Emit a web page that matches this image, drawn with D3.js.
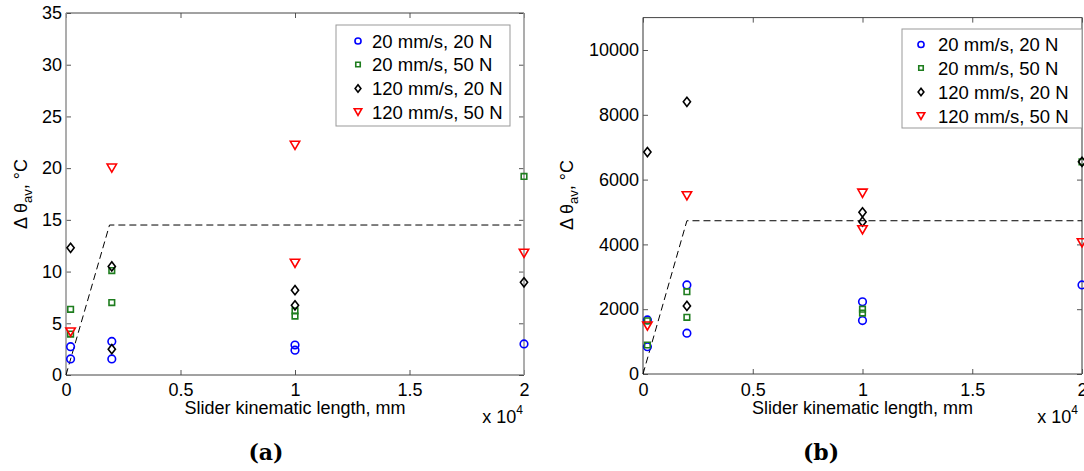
<!DOCTYPE html>
<html><head><meta charset="utf-8">
<script src="https://cdn.jsdelivr.net/npm/d3@7"></script>
<style>
body{margin:0;background:#fff}
text{font-family:"Liberation Sans",Arial,Helvetica,sans-serif;fill:#000}
</style>
</head><body>
<svg id="chart" width="1084" height="471"></svg>
<script>
// ---------- data ----------
const seriesNames = ["20 mm/s, 20 N", "20 mm/s, 50 N", "120 mm/s, 20 N", "120 mm/s, 50 N"];
const seriesColors = ["#0000ff", "#1e7d1e", "#000000", "#ff0000"];
const seriesShapes = ["circle", "square", "diamond", "triangle"];
const xTickValues = [0, 5000, 10000, 15000, 20000];
const xTickLabels = ["0", "0.5", "1", "1.5", "2"];
const xLabel = "Slider kinematic length, mm";
const aYTicks = [0, 5, 10, 15, 20, 25, 30, 35];
const bYTicks = [0, 2000, 4000, 6000, 8000, 10000];

// panel (a)
const aCircleX = [200, 200, 2000, 2000, 10000, 10000, 20000];
const aCircleY = [2.74, 1.55, 3.25, 1.55, 2.9, 2.4, 3.0];
const aSquareX = [200, 200, 2000, 2000, 10000, 10000, 20000];
const aSquareY = [6.35, 3.96, 10.1, 7.0, 6.2, 5.7, 19.2];
const aDiamondX = [200, 2000, 2000, 10000, 10000, 20000];
const aDiamondY = [12.3, 10.5, 2.5, 8.2, 6.74, 8.96];
const aTriangleX = [200, 2000, 10000, 10000, 20000];
const aTriangleY = [4.15, 20.0, 22.2, 10.8, 11.76];
const aDashX = [0, 1900, 20000];
const aDashY = [0, 14.5, 14.5];

// panel (b)
const bCircleX = [200, 200, 2000, 2000, 10000, 10000, 20000];
const bCircleY = [1670, 843, 2750, 1260, 2230, 1650, 2750];
const bSquareX = [200, 200, 2000, 2000, 10000, 10000, 20000];
const bSquareY = [1640, 895, 2540, 1750, 2000, 1880, 6550];
const bDiamondX = [200, 2000, 2000, 10000, 10000, 20000];
const bDiamondY = [6850, 8400, 2100, 4990, 4700, 6550];
const bTriangleX = [200, 2000, 10000, 10000, 20000];
const bTriangleY = [1480, 5500, 5580, 4450, 4050];
const bDashX = [0, 2000, 20000];
const bDashY = [0, 4730, 4730];

// ---------- drawing ----------
const svg = d3.select("#chart");

function markerPath(shape, s) {
  if (shape === "circle") return d3.symbol().type(d3.symbolCircle).size(Math.PI * (3.8 * s) ** 2)();
  if (shape === "square") { const h = 2.8 * s; return `M${-h},${-h}H${h}V${h}H${-h}Z`; }
  if (shape === "diamond") { const w = 3.6 * s, h = 4.6 * s; return `M0,${-h}L${w},0L0,${h}L${-w},0Z`; }
  if (shape === "triangle") { const w = 4.7 * s, h = 4.1 * s; return `M${-w},${-h}L${w},${-h}L0,${h}Z`; }
}

function drawPanel(cfg) {
  const g = svg.append("g");
  const x = d3.scaleLinear().domain([0, 20000]).range([cfg.L, cfg.R]);
  const y = d3.scaleLinear().domain([0, cfg.yMax]).range([cfg.B, cfg.T]);

  const styleAxis = sel => {
    sel.select(".domain").remove();
    sel.selectAll(".tick line").attr("stroke", "#555");
    sel.selectAll(".tick text").style("font-family", '"Liberation Sans",Arial,sans-serif').style("font-size", "18px").attr("fill", "#000");
  };

  g.append("g").attr("transform", `translate(0,${cfg.B})`)
    .call(d3.axisBottom(x).tickValues(xTickValues).tickFormat((d, i) => xTickLabels[i]).tickSizeInner(-5).tickSizeOuter(0).tickPadding(cfg.xPad))
    .call(styleAxis);
  g.append("g").attr("transform", `translate(0,${cfg.T})`)
    .call(d3.axisTop(x).tickValues(xTickValues).tickFormat("").tickSizeInner(-5).tickSizeOuter(0))
    .call(styleAxis);
  g.append("g").attr("transform", `translate(${cfg.L},0)`)
    .call(d3.axisLeft(y).tickValues(cfg.yTicks).tickFormat(d3.format("d")).tickSizeInner(-5).tickSizeOuter(0).tickPadding(4))
    .call(styleAxis);
  g.append("g").attr("transform", `translate(${cfg.R},0)`)
    .call(d3.axisRight(y).tickValues(cfg.yTicks).tickFormat("").tickSizeInner(-5).tickSizeOuter(0))
    .call(styleAxis);

  // box
  g.append("line").attr("x1", cfg.L).attr("x2", cfg.R).attr("y1", cfg.T).attr("y2", cfg.T).attr("stroke", "#444");
  g.append("line").attr("x1", cfg.L).attr("x2", cfg.R).attr("y1", cfg.B).attr("y2", cfg.B).attr("stroke", "#444");
  g.append("line").attr("x1", cfg.L).attr("x2", cfg.L).attr("y1", cfg.T).attr("y2", cfg.B).attr("stroke", cfg.sideColor).attr("stroke-width", cfg.sideWidth);
  g.append("line").attr("x1", cfg.R).attr("x2", cfg.R).attr("y1", cfg.T).attr("y2", cfg.B).attr("stroke", cfg.sideColor).attr("stroke-width", cfg.sideWidth);

  // dashed line
  const dash = cfg.dashX.map((d, i) => [d, cfg.dashY[i]]);
  g.append("path").attr("d", d3.line().x(d => x(d[0])).y(d => y(d[1]))(dash))
    .attr("fill", "none").attr("stroke", "#000").attr("stroke-width", 1).attr("stroke-dasharray", "7,4");

  // markers
  cfg.series.forEach((s, si) => {
    const pts = s.x.map((d, i) => [d, s.y[i]]);
    g.selectAll(null).data(pts).enter().append("path")
      .attr("d", markerPath(seriesShapes[si], 1))
      .attr("transform", d => `translate(${x(d[0])},${y(d[1])})`)
      .attr("fill", "none").attr("stroke", seriesColors[si]).attr("stroke-width", 1.6);
  });

  // legend
  const lg = g.append("g");
  lg.append("rect").attr("x", cfg.lg.x).attr("y", cfg.lg.y).attr("width", cfg.lg.w).attr("height", cfg.lg.h)
    .attr("fill", "#fff").attr("stroke", "#999");
  seriesNames.forEach((nm, i) => {
    const cy = cfg.lg.rowY[i];
    lg.append("path").attr("d", markerPath(seriesShapes[i], 0.8))
      .attr("transform", `translate(${cfg.lg.mx},${cy})`)
      .attr("fill", "none").attr("stroke", seriesColors[i]).attr("stroke-width", 1.6);
    lg.append("text").attr("x", cfg.lg.tx).attr("y", cy).attr("dy", "0.36em")
      .style("font-size", "18.5px").text(nm);
  });

  // y label
  const yl = g.append("text").attr("transform", `translate(${cfg.ylx},${cfg.yly}) rotate(-90)`)
    .attr("text-anchor", "middle").style("font-size", "18px");
  yl.append("tspan").text("Δ θ");
  yl.append("tspan").attr("dy", "0.35em").style("font-size", "13px").text("av");
  yl.append("tspan").attr("dy", "-0.25em").text(", °C");

  // x label
  g.append("text").attr("x", (cfg.L + cfg.R) / 2).attr("y", cfg.xlY).attr("text-anchor", "middle")
    .style("font-size", "18px").text(xLabel);

  // exponent
  const ex = g.append("text").attr("x", cfg.expX).attr("y", cfg.expY).attr("text-anchor", "end").style("font-size", "18px");
  ex.append("tspan").text("x 10");
  ex.append("tspan").attr("dy", "-0.75em").style("font-size", "12px").text("4");

  // panel caption
  g.append("text").attr("x", cfg.capX).attr("y", cfg.capY).attr("text-anchor", "middle")
    .style("font-family", '"DejaVu Serif",serif').style("font-weight", "bold").style("font-size", "22px").text(cfg.caption);
}

drawPanel({
  L: 66, R: 524, T: 13, B: 375, yMax: 35, yTicks: aYTicks, xPad: 8,
  sideColor: "#999", sideWidth: 1.6,
  dashX: aDashX, dashY: aDashY,
  series: [{x: aCircleX, y: aCircleY}, {x: aSquareX, y: aSquareY}, {x: aDiamondX, y: aDiamondY}, {x: aTriangleX, y: aTriangleY}],
  lg: {x: 336, y: 25, w: 174, h: 101, rowY: [41, 64.5, 88.5, 112], mx: 358, tx: 372},
  ylx: 27, yly: 194, xlY: 414, expX: 523, expY: 423,
  capX: 266, capY: 460, caption: "(a)"
});

drawPanel({
  L: 643, R: 1082, T: 17.6, B: 374, yMax: 11000, yTicks: bYTicks, xPad: 9,
  sideColor: "#555", sideWidth: 1.2,
  dashX: bDashX, dashY: bDashY,
  series: [{x: bCircleX, y: bCircleY}, {x: bSquareX, y: bSquareY}, {x: bDiamondX, y: bDiamondY}, {x: bTriangleX, y: bTriangleY}],
  lg: {x: 902, y: 29, w: 180, h: 99, rowY: [44.5, 68, 92, 116], mx: 921, tx: 938},
  ylx: 573, yly: 195, xlY: 414, expX: 1078, expY: 423,
  capX: 821, capY: 460, caption: "(b)"
});
</script>
</body></html>
